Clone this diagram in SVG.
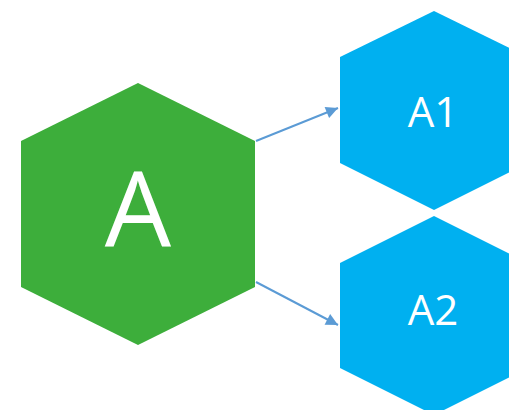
<svg xmlns="http://www.w3.org/2000/svg" width="509" height="410" viewBox="0 0 509 410">
<style>
.green{fill:#3DAE3B}
.blue{fill:#00B0F0}
.lbl{fill:#FFFFFF;font-family:"Open Sans","Liberation Sans",sans-serif;text-anchor:middle}
.conn{stroke:#5B9BD5;stroke-width:2;fill:none;marker-end:url(#ah)}
</style>
<defs>
<marker id="ah" markerUnits="userSpaceOnUse" viewBox="0 0 10 10" markerWidth="15" markerHeight="12" refX="10" refY="5" orient="auto">
<path d="M0,0 L10,5 L0,10 z" fill="#5B9BD5"/>
</marker>
</defs>
<rect width="509" height="410" fill="#FFFFFF"/>
<g id="node-A">
<polygon class="green" points="138,83 255,141 255,287 138,345 21,287 21,141"/>
<text class="lbl" x="138" y="247" font-size="105">A</text>
</g>
<g id="node-A1">
<polygon class="blue" points="434,11 528,57 528,163 434,210 340,163 340,57"/>
<text class="lbl" x="433" y="127" font-size="42">A1</text>
</g>
<g id="node-A2">
<polygon class="blue" points="434,216 528,263 528,368 434,415 340,368 340,263"/>
<text class="lbl" x="433" y="325" font-size="42">A2</text>
</g>
<g id="connectors">
<line class="conn" x1="256" y1="141" x2="338" y2="108"/>
<line class="conn" x1="256" y1="282" x2="338" y2="325"/>
</g>
</svg>
